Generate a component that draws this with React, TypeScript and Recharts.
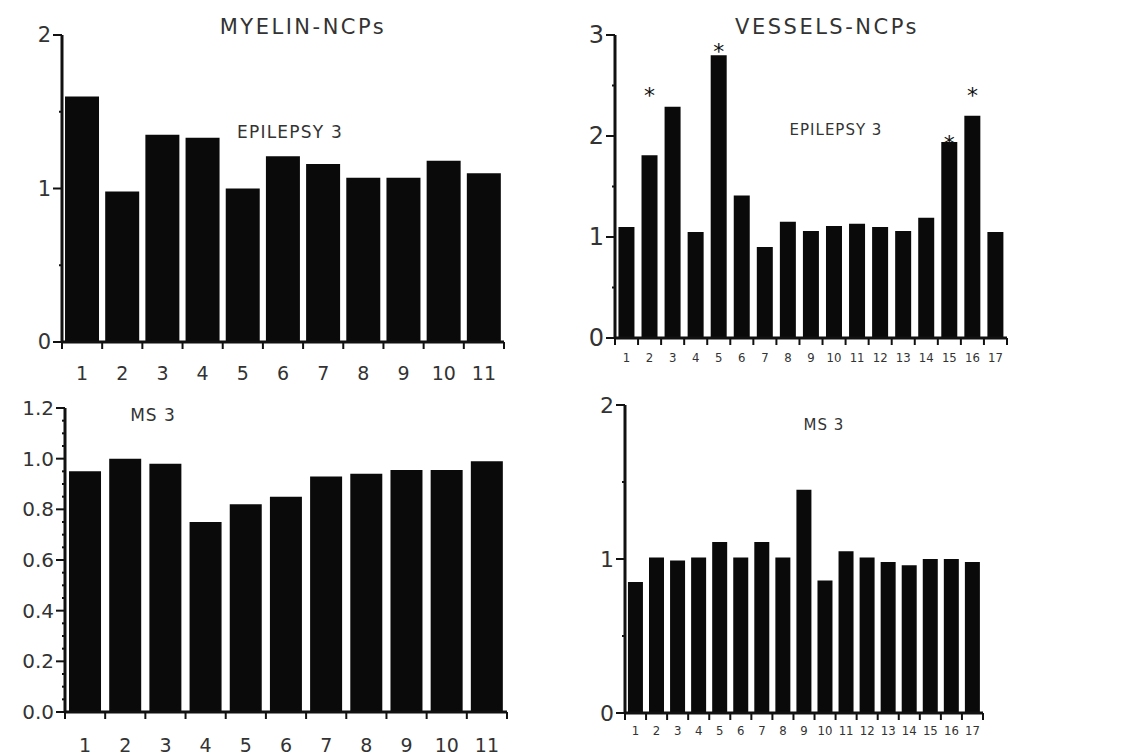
import React from 'react';
import { ComposedChart, Bar, XAxis, YAxis, Scatter } from 'recharts';

const FONT = '"DejaVu Sans", "Open Sans", sans-serif';
const NARROW = '"DejaVu Sans Condensed", "Liberation Sans Narrow", "DejaVu Sans", sans-serif';

// ---- data ----
const myelinCategories = ['1', '2', '3', '4', '5', '6', '7', '8', '9', '10', '11'];
const myelinEpilepsy = [1.6, 0.98, 1.35, 1.33, 1.0, 1.21, 1.16, 1.07, 1.07, 1.18, 1.1];
const myelinMS = [0.95, 1.0, 0.98, 0.75, 0.82, 0.85, 0.93, 0.94, 0.955, 0.955, 0.99];

const vesselCategories = ['1', '2', '3', '4', '5', '6', '7', '8', '9', '10', '11', '12', '13', '14', '15', '16', '17'];
const vesselEpilepsy = [1.1, 1.81, 2.29, 1.05, 2.8, 1.41, 0.9, 1.15, 1.06, 1.11, 1.13, 1.1, 1.06, 1.19, 1.94, 2.2, 1.05];
const vesselEpilepsyStars = [null, 2.46, null, null, 2.9, null, null, null, null, null, null, null, null, null, 1.99, 2.46, null];
const vesselMS = [0.85, 1.01, 0.99, 1.01, 1.11, 1.01, 1.11, 1.01, 1.45, 0.86, 1.05, 1.01, 0.98, 0.96, 1.0, 1.0, 0.98];

const ticksTopLeft = [0, 1, 2];
const minorTopLeft = [0.5, 1.5];
const ticksBottomLeft = [0, 0.2, 0.4, 0.6, 0.8, 1.0, 1.2];
const minorBottomLeft = [0.05, 0.1, 0.15, 0.25, 0.3, 0.35, 0.45, 0.5, 0.55, 0.65, 0.7, 0.75, 0.85, 0.9, 0.95, 1.05, 1.1, 1.15];
const ticksTopRight = [0, 1, 2, 3];
const minorTopRight = [0.5, 1.5, 2.5];
const ticksBottomRight = [0, 1, 2];
const minorBottomRight = [0.5, 1.5];

const INK = '#111';
const TEXT = '#333';
const Y_TICK = 9;
const Y_MARGIN = 3;

const StarShape = (props: any) => {
  if (props.payload == null || props.payload.star == null) return null;
  return (
    <text x={props.cx} y={props.cy} textAnchor="middle" dominantBaseline="central" dy={6}
      fontSize={22} fontFamily={FONT} fill={INK}>*</text>
  );
};

function Panel(p: any) {
  const rows = p.categories.map((c: string, i: number) => ({
    cat: c,
    v: p.values[i],
    star: p.stars ? p.stars[i] : null,
  }));
  const n = p.categories.length;
  const plotW = p.width - p.margin.left - p.margin.right - p.yWidth;
  const half = plotW / n / 2;
  const allTicks = [...p.major, ...p.minor].sort((a: number, b: number) => a - b);

  const XTick = (t: any) => {
    const { x, y, payload, index } = t;
    return (
      <g>
        <line x1={x - half} x2={x - half} y1={y} y2={y + 7} stroke={INK} strokeWidth={2} />
        {index === n - 1 ? (
          <line x1={x + half} x2={x + half} y1={y} y2={y + 7} stroke={INK} strokeWidth={2} />
        ) : null}
        <text x={x} y={y + p.xMargin} textAnchor="middle" dominantBaseline="central"
          fontSize={p.xFont} fontFamily={p.xFamily} fill={TEXT}>{payload.value}</text>
      </g>
    );
  };

  const YTick = (t: any) => {
    const { x, y, payload } = t;
    const ax = x + Y_TICK + Y_MARGIN;
    const isMajor = p.major.some((m: number) => Math.abs(m - payload.value) < 1e-9);
    return (
      <g>
        <line x1={ax - (isMajor ? Y_TICK : 3)} x2={ax} y1={y} y2={y} stroke={INK} strokeWidth={2} />
        {isMajor ? (
          <text x={ax - Y_TICK - 2} y={y} textAnchor="end" dominantBaseline="central"
            fontSize={p.yFont} fontFamily={FONT} fill={TEXT}>{p.fmt(payload.value)}</text>
        ) : null}
      </g>
    );
  };

  return (
    <div style={{ position: 'absolute', left: p.left, top: p.top }}>
      <ComposedChart width={p.width} height={p.height} data={rows} margin={p.margin} barCategoryGap={p.gap}>
        <XAxis xAxisId="c" dataKey="cat" type="category" height={30}
          axisLine={{ stroke: INK, strokeWidth: 3 }} tickLine={false}
          tickSize={0} tickMargin={0} interval={0} tick={XTick} />
        <YAxis yAxisId="v" type="number" domain={p.yDomain} ticks={allTicks} width={p.yWidth}
          tickSize={Y_TICK} tickMargin={Y_MARGIN} axisLine={{ stroke: INK, strokeWidth: 3 }}
          tickLine={false} allowDataOverflow interval={0} tick={YTick} />
        <Bar xAxisId="c" yAxisId="v" dataKey="v" fill="#0a0a0a" isAnimationActive={false} />
        {p.stars ? (
          <Scatter xAxisId="c" yAxisId="v" dataKey="star" isAnimationActive={false} shape={StarShape} />
        ) : null}
      </ComposedChart>
    </div>
  );
}

function Label(p: any) {
  return (
    <div style={{
      position: 'absolute', left: p.cx - 200, width: 400, top: p.cy - p.size / 2, textAlign: 'center',
      fontSize: p.size, lineHeight: 1, fontFamily: FONT, color: TEXT, letterSpacing: p.ls || 0,
      whiteSpace: 'nowrap',
    }}>{p.children}</div>
  );
}

export default function App() {
  return (
    <div style={{ position: 'absolute', left: 0, top: 0, width: 1146, height: 755, background: '#fff', overflow: 'hidden' }}>
      <Panel left={0} top={0} width={520} height={390}
        margin={{ top: 35, right: 16, bottom: 18, left: 17 }} yWidth={45}
        categories={myelinCategories} values={myelinEpilepsy} yDomain={[0, 2]}
        major={ticksTopLeft} minor={minorTopLeft} fmt={(v: number) => String(v)}
        gap="7.5%" xFont={19} xFamily={FONT} xMargin={31} yFont={21} />
      <Panel left={520} top={0} width={626} height={390}
        margin={{ top: 35, right: 139, bottom: 22, left: 50 }} yWidth={45}
        categories={vesselCategories} values={vesselEpilepsy} stars={vesselEpilepsyStars} yDomain={[0, 3]}
        major={ticksTopRight} minor={minorTopRight} fmt={(v: number) => String(v)}
        gap="15%" xFont={13} xFamily={NARROW} xMargin={19} yFont={24} />
      <Panel left={0} top={390} width={520} height={365}
        margin={{ top: 18, right: 13, bottom: 13, left: 5 }} yWidth={60}
        categories={myelinCategories} values={myelinMS} yDomain={[0, 1.2]}
        major={ticksBottomLeft} minor={minorBottomLeft} fmt={(v: number) => v.toFixed(1)}
        gap="10%" xFont={19} xFamily={FONT} xMargin={33} yFont={20} />
      <Panel left={520} top={390} width={626} height={365}
        margin={{ top: 15, right: 163, bottom: 12, left: 60 }} yWidth={45}
        categories={vesselCategories} values={vesselMS} yDomain={[0, 2]}
        major={ticksBottomRight} minor={minorBottomRight} fmt={(v: number) => String(v)}
        gap="14%" xFont={13} xFamily={NARROW} xMargin={17} yFont={22} />

      <Label cx={303} cy={27} size={21} ls={2.5}>MYELIN-NCPs</Label>
      <Label cx={827} cy={27} size={21} ls={2.5}>VESSELS-NCPs</Label>
      <Label cx={290} cy={132} size={17} ls={1.2}>EPILEPSY 3</Label>
      <Label cx={836} cy={130} size={15} ls={1}>EPILEPSY 3</Label>
      <Label cx={153} cy={415} size={17} ls={1}>MS 3</Label>
      <Label cx={824} cy={425} size={15} ls={1}>MS 3</Label>
    </div>
  );
}
